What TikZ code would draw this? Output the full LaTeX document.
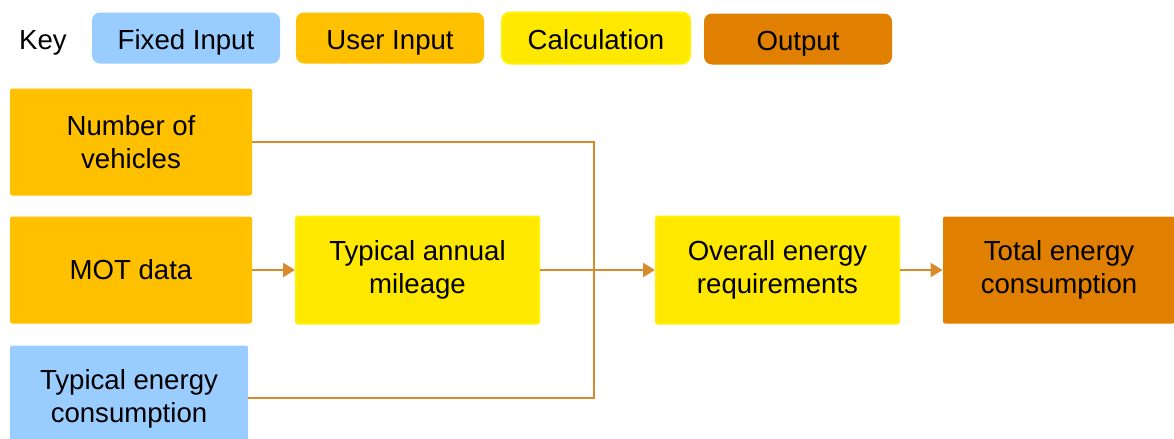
\documentclass[tikz,border=0pt]{standalone}
\usepackage{fontspec}
\setmainfont{Liberation Sans}
\usepackage{xcolor}
\usetikzlibrary{arrows.meta, positioning, calc}

\definecolor{fixedblue}{HTML}{99CCFF}
\definecolor{useramber}{HTML}{FFC000}
\definecolor{calcyellow}{HTML}{FFE800}
\definecolor{calcedge}{HTML}{FFF200}
\definecolor{outorange}{HTML}{E07F00}
\definecolor{linkline}{HTML}{D98B2B}

\tikzset{
  box/.style={align=center, inner sep=0pt, font=\fontsize{13.8}{16.5}\selectfont,
    minimum width=121pt, minimum height=53.5pt, rounded corners=1pt},
  keybox/.style={box, minimum width=94pt, minimum height=25.5pt, rounded corners=4pt,
    text height=12pt, text depth=1pt},
  fixedbox/.style={fill=fixedblue},
  userbox/.style={fill=useramber},
  calcbox/.style={fill=calcyellow, draw=calcedge, line width=1pt},
  outbox/.style={fill=outorange},
  link/.style={draw=linkline, line width=1pt},
  flow/.style={link, -{Triangle[length=6pt, width=7pt]}}
}

\begin{document}
\begin{tikzpicture}[x=0.5pt, y=-0.5pt]
      \useasboundingbox (0,0) rectangle (1174,439);

      % key
      \node[font=\fontsize{13.8}{16.5}\selectfont, inner sep=0pt, text height=12pt, text depth=1pt] (key) at (43,38) {Key};
      \node[keybox, fixedbox] (kfixed) at (186,38) {Fixed Input};
      \node[keybox, userbox] (kuser) at (390,38) {User Input};
      \node[keybox, calcbox] (kcalc) at (596,38) {Calculation};
      \node[keybox, outbox] (kout) at (798,39) {Output};

      % inputs
      \node[box, userbox] (vehicles) at (131,142) {Number of\\vehicles};
      \node[box, userbox] (mot) at (131,270) {MOT data};
      \node[box, fixedbox, minimum width=119pt] (typenergy) at (129,399) {Typical energy\\consumption};

      % calculations and output
      \node[box, calcbox, minimum width=121.5pt] (mileage) at (417.5,270) {Typical annual\\mileage};
      \node[box, calcbox, minimum width=121.5pt] (overall) at (777.5,270) {Overall energy\\requirements};
      \node[box, outbox, minimum width=116pt] (total) at (1059,270) {Total energy\\consumption};

      \coordinate (junc) at (594,270);

      \draw[flow] (mot) -- (mileage);
      \draw[link] (vehicles) -| (junc);
      \draw[link] (typenergy.east |- 0,398) -| (junc);
      \draw[flow] (mileage) -- (overall);
      \draw[flow] (overall) -- (total);

    \end{tikzpicture}
\end{document}
